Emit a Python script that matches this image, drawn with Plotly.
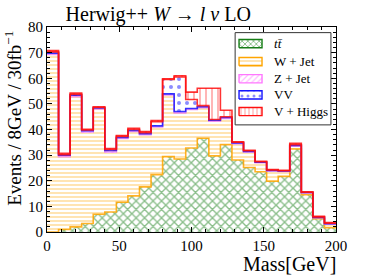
import plotly.graph_objects as go

# ---- data (events per 8 GeV bin, 0-200 GeV) ----
bin_edges = list(range(0, 208, 8))
ttbar  = [0.0, 1.0, 2.0, 3.3, 6.9, 7.8, 11.6, 14.1, 17.6, 22.4, 29.4, 28.5, 32.8,
          36.6, 29.7, 34.1, 28.1, 25.2, 23.5, 19.8, 21.7, 32.4, 14.6, 5.2, 1.7]
wjet   = [69.3, 28.4, 50.8, 35.7, 41.1, 23.4, 24.9, 25.1, 20.4, 18.6, 24.1, 18.0, 15.0,
          11.9, 13.5, 10.2, 6.4, 6.0, 3.5, 4.0, 1.9, 1.1, 0.6, 0.4, 1.3]
zjet   = [0.5, 0.6, 0.6, 0.5, 0.4, 0.6, 0.4, 0.4, 0.4, 0.4, 0.4, 0.5, 0.4,
          0.4, 0.4, 0.4, 0.3, 0.2, 0.2, 0.2, 0.2, 0.3, 0.2, 0.1, 0.2]
vv     = [0.5, 0.2, 0.3, 0.3, 0.2, 0.4, 0.4, 0.4, 0.4, 1.6, 5.6, 13.5, 3.5,
          0.4, 0.3, 0.3, 0.2, 0.3, 0.2, 0.2, 0.1, 0.3, 0.1, 0.2, 0.2]
vhiggs = [0.5, 0.5, 0.5, 0.3, 0.3, 0.4, 0.3, 0.5, 0.4, 0.5, 0.3, 0.5, 2.9,
          6.8, 12.2, 2.5, 0.2, 0.2, 0.2, 0.2, 0.2, 0.5, 0.2, 0.2, 0.3]

labels = ["<i>t</i><i>t̄</i>", "W + Jet", "Z + Jet", "VV", "V + Higgs"]
x_ticks = [0, 50, 100, 150, 200]
y_ticks = [0, 10, 20, 30, 40, 50, 60, 70, 80]

FONT = "Liberation Serif"
styles = [
    dict(shape="x", fg="#167d16", size=6, sol=0.4, edge="#FFA500", own="#167d16"),
    dict(shape="-", fg="#FFA500", size=4, sol=0.3, edge="#EE82EE", own="#FFA500"),
    dict(shape="/", fg="#FF77FF", size=5, sol=0.3, edge="#1515FF", own="#FF77FF"),
    dict(shape=".", fg="#1a1aFF", size=8, sol=0.2, edge="#FF1010", own="#1515FF"),
    dict(shape="|", fg="#FF2020", size=6, sol=0.22, edge="#FF1010", own="#FF1010"),
]

series = [ttbar, wjet, zjet, vv, vhiggs]
centers = [(a + b) / 2 for a, b in zip(bin_edges[:-1], bin_edges[1:])]

fig = go.Figure()
for vals, st, lab in zip(series, styles, labels):
    fig.add_trace(go.Bar(
        x=centers, y=vals, width=8, showlegend=False, hoverinfo="skip", name=lab,
        marker=dict(color="white", line=dict(width=0),
                    pattern=dict(shape=st["shape"], fgcolor=st["fg"], bgcolor="white",
                                 size=st["size"], solidity=st["sol"]))))

# step outlines at each cumulative level
cum = [0.0] * len(ttbar)
for vals, st in zip(series, styles):
    cum = [c + v for c, v in zip(cum, vals)]
    fig.add_trace(go.Scatter(
        x=bin_edges, y=cum + [cum[-1]], mode="lines", line_shape="hv",
        line=dict(color=st["edge"], width=1.6), opacity=0.85,
        showlegend=False, hoverinfo="skip"))

# ---- hand-built legend (swatches + labels), placed in axis units ----
leg_x0, leg_x1 = 130.2, 196.5          # legend box (GeV units)
leg_y0, leg_y1 = 41.8, 77.8            # legend box (event units)
sw_x0, sw_x1 = 132.9, 148.8            # swatch horizontal extent
row_y = [73.5, 66.5, 59.8, 53.5, 47.0] # row centres
sw_h = 1.6
annotations = []
for lab, st, yc in zip(labels, styles, row_y):
    fig.add_trace(go.Scatter(
        x=[sw_x0, sw_x1, sw_x1, sw_x0, sw_x0],
        y=[yc - sw_h, yc - sw_h, yc + sw_h, yc + sw_h, yc - sw_h],
        mode="lines", fill="toself", fillcolor="white",
        fillpattern=dict(shape=st["shape"], fgcolor=st["fg"], bgcolor="white",
                         size=4 if st["shape"] != "." else 6, solidity=st["sol"]),
        line=dict(color=st["own"], width=1.4), showlegend=False, hoverinfo="skip"))
    annotations.append(dict(text=lab, x=155.5, y=yc, xref="x", yref="y",
                            xanchor="left", yanchor="middle", showarrow=False,
                            font=dict(family=FONT, size=13, color="black")))

annotations += [
    dict(text="Events / 8GeV / 30fb<sup>−1</sup>", textangle=-90,
         xref="paper", yref="paper", x=-0.12, y=0.99, xanchor="center", yanchor="top",
         showarrow=False, font=dict(family=FONT, size=19, color="black")),
    dict(text="Mass[GeV]", xref="paper", yref="paper", x=1.008, y=-0.158,
         xanchor="right", yanchor="middle", showarrow=False,
         font=dict(family=FONT, size=20, color="black")),
]

axis_common = dict(showline=True, linecolor="black", linewidth=1, mirror="allticks",
                   ticks="inside", ticklen=5, tickcolor="black", showgrid=False,
                   zeroline=False, tickfont=dict(family=FONT, size=15, color="black"))

fig.update_layout(
    width=374, height=280,
    margin=dict(l=47, r=38, t=27, b=48),
    paper_bgcolor="white", plot_bgcolor="white",
    barmode="stack", bargap=0, showlegend=False,
    font=dict(family=FONT, color="black"),
    title=dict(text="Herwig++ <i>W</i> → <i>l</i> <i>ν</i> LO", x=0.385, xref="paper",
               xanchor="center", y=0.95, yanchor="middle",
               font=dict(family=FONT, size=20, color="black")),
    xaxis=dict(range=[0, 200], tickvals=x_ticks,
               minor=dict(ticks="inside", ticklen=3, dtick=10, tickcolor="black"),
               **axis_common),
    yaxis=dict(range=[0, 80], tickvals=y_ticks,
               minor=dict(ticks="inside", ticklen=3, dtick=2, tickcolor="black"),
               **axis_common),
    shapes=[dict(type="rect", xref="x", yref="y", x0=leg_x0, x1=leg_x1,
                 y0=leg_y0, y1=leg_y1, line=dict(color="#333333", width=1),
                 fillcolor="rgba(0,0,0,0)", layer="above")],
    annotations=annotations,
)

fig.write_html("out.html", config={"displayModeBar": False},
               post_script="document.body.style.margin='0';")
